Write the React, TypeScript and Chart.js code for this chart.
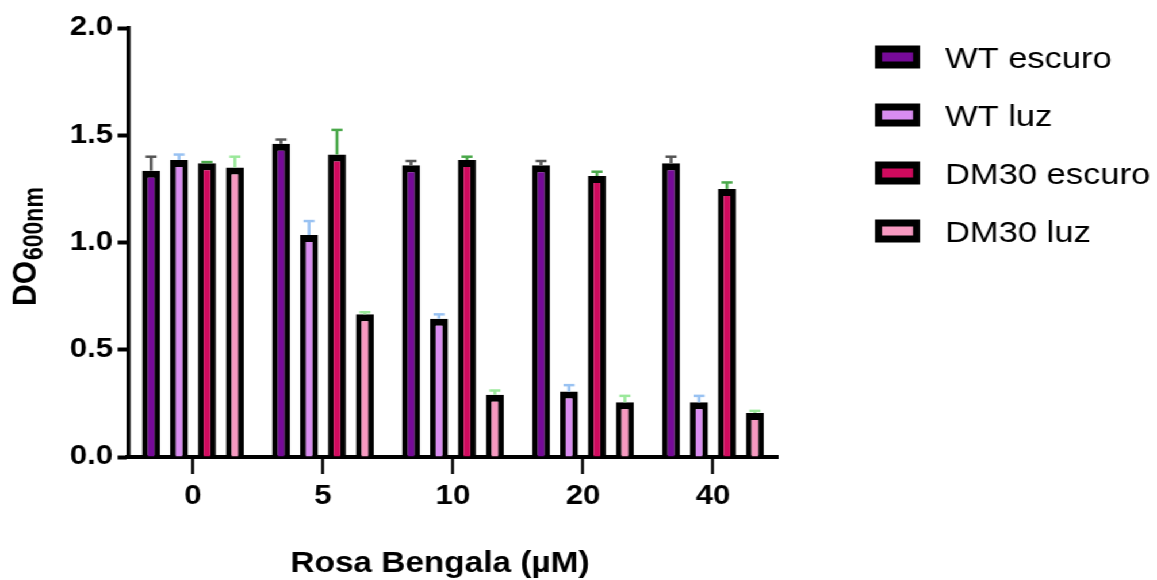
import React, { useEffect, useRef } from "react";
import { Chart, registerables } from "chart.js";

Chart.register(...registerables);

const categories = ["0", "5", "10", "20", "40"];
const seriesNames = ["WT escuro", "WT luz", "DM30 escuro", "DM30 luz"];
const wtEscuro = [1.335, 1.46, 1.36, 1.36, 1.37];
const wtEscuroErr = [0.065, 0.02, 0.02, 0.02, 0.03];
const wtLuz = [1.385, 1.035, 0.645, 0.305, 0.255];
const wtLuzErr = [0.025, 0.065, 0.02, 0.03, 0.03];
const dm30Escuro = [1.37, 1.41, 1.385, 1.31, 1.25];
const dm30EscuroErr = [0.005, 0.115, 0.015, 0.02, 0.03];
const dm30Luz = [1.35, 0.665, 0.29, 0.255, 0.205];
const dm30LuzErr = [0.05, 0.01, 0.02, 0.03, 0.01];
const yTicks = [0, 0.5, 1.0, 1.5, 2.0];

const fillColors = ["#760a98", "#d98cf0", "#d00a5e", "#f799c1"];
const errColors = ["#555555", "#99c2f2", "#4aa84a", "#9be89b"];

const W = 1006;
const H = 580;
const S = 1157 / W;
const FONT = '"Liberation Sans", Arial, sans-serif';

export default function App() {
  const ref = useRef<HTMLCanvasElement | null>(null);

  useEffect(() => {
    const canvas = ref.current;
    if (!canvas) return;
    const values = [wtEscuro, wtLuz, dm30Escuro, dm30Luz];
    const errs = [wtEscuroErr, wtLuzErr, dm30EscuroErr, dm30LuzErr];

    const errorBars = {
      id: "errorBars",
      afterDatasetsDraw(chart: any) {
        const ctx = chart.ctx;
        const ys = chart.scales.y;
        ctx.save();
        chart.data.datasets.forEach((ds: any, i: number) => {
          const meta = chart.getDatasetMeta(i);
          meta.data.forEach((el: any, j: number) => {
            const v = values[i][j];
            const e = errs[i][j];
            const yTop = ys.getPixelForValue(v);
            const yErr = ys.getPixelForValue(v + e);
            ctx.strokeStyle = errColors[i];
            ctx.lineWidth = 2.6;
            ctx.beginPath();
            ctx.moveTo(el.x, yTop);
            ctx.lineTo(el.x, yErr);
            ctx.stroke();
            ctx.lineWidth = 2.5;
            ctx.beginPath();
            ctx.moveTo(el.x - 4.8, yErr);
            ctx.lineTo(el.x + 4.8, yErr);
            ctx.stroke();
          });
        });
        ctx.restore();
      },
    };

    const decorations = {
      id: "decorations",
      afterDraw(chart: any) {
        const ctx = chart.ctx;
        ctx.save();
        // legend
        seriesNames.forEach((name, i) => {
          const cy = 57 + i * 58;
          const bx = 875 / S;
          const bw = 45 / S;
          const bh = 23;
          ctx.fillStyle = "#000";
          ctx.fillRect(bx, cy - bh / 2, bw, bh);
          const bb = 7 / S;
          ctx.fillStyle = fillColors[i];
          ctx.fillRect(bx + bb, cy - bh / 2 + 7, bw - 2 * bb, bh - 14);
          ctx.fillStyle = "#000";
          ctx.font = `normal 30px ${FONT}`;
          ctx.textAlign = "left";
          ctx.textBaseline = "alphabetic";
          ctx.fillText(name, 945 / S, cy + 10.5);
        });
        // x title
        ctx.font = `bold 29px ${FONT}`;
        ctx.textAlign = "center";
        ctx.textBaseline = "alphabetic";
        ctx.fillStyle = "#000";
        ctx.fillText("Rosa Bengala (µM)", 440 / S, 572);
        // y title
        ctx.translate(36 / S, 306);
        ctx.rotate(-Math.PI / 2);
        ctx.textAlign = "left";
        ctx.font = `bold 30px ${FONT}`;
        ctx.fillText("DO", 0, 0);
        const w = ctx.measureText("DO").width;
        ctx.font = `bold 23px ${FONT}`;
        ctx.fillText("600nm", w + 1, 7 / S);
        ctx.restore();
      },
    };

    const chart = new Chart(canvas, {
      type: "bar",
      data: {
        labels: categories,
        datasets: seriesNames.map((name, i) => ({
          label: name,
          data: values[i],
          backgroundColor: fillColors[i],
          borderColor: "#000",
          borderWidth: { top: 7, left: 5, right: 5, bottom: 0 },
          borderSkipped: "start",
          categoryPercentage: 0.86,
          barPercentage: 0.645,
        })),
      },
      options: {
        responsive: false,
        animation: false,
        devicePixelRatio: 1,
        layout: { padding: { left: 0, top: 28, right: W - 778 / S, bottom: 0 } },
        plugins: {
          legend: { display: false },
          tooltip: { enabled: false },
          title: { display: false },
        },
        scales: {
          x: {
            type: "category",
            offset: true,
            grid: {
              display: true,
              drawOnChartArea: false,
              drawTicks: true,
              tickLength: 17,
              tickWidth: 2.5,
              tickColor: "#000",
              offset: false,
            },
            border: { display: true, color: "#000", width: 4 },
            ticks: {
              color: "#000",
              font: { family: FONT, size: 27, weight: "bold" },
              padding: 6,
              maxRotation: 0,
              autoSkip: false,
            },
            afterFit: (s: any) => {
              s.height = H - 457;
            },
          },
          y: {
            type: "linear",
            min: 0,
            max: 2,
            afterBuildTicks: (s: any) => {
              s.ticks = yTicks.map((v) => ({ value: v }));
            },
            ticks: {
              color: "#000",
              font: { family: FONT, size: 27, weight: "bold" },
              padding: 4,
              callback: (v: any) => Number(v).toFixed(1),
            },
            grid: {
              display: true,
              drawOnChartArea: false,
              drawTicks: true,
              tickLength: 9,
              tickWidth: 4,
              tickColor: "#000",
            },
            border: { display: true, color: "#000", width: 3.5 },
            afterFit: (s: any) => {
              s.width = 128 / S;
            },
          },
        },
      },
      plugins: [errorBars, decorations],
    } as any);

    return () => chart.destroy();
  }, []);

  return (
    <div
      style={{
        position: "absolute",
        left: 0,
        top: 0,
        width: W,
        height: H,
        transform: `scaleX(${S})`,
        transformOrigin: "0 0",
        background: "#fff",
      }}
    >
      <canvas ref={ref} width={W} height={H} style={{ width: W, height: H, display: "block" }} />
    </div>
  );
}
